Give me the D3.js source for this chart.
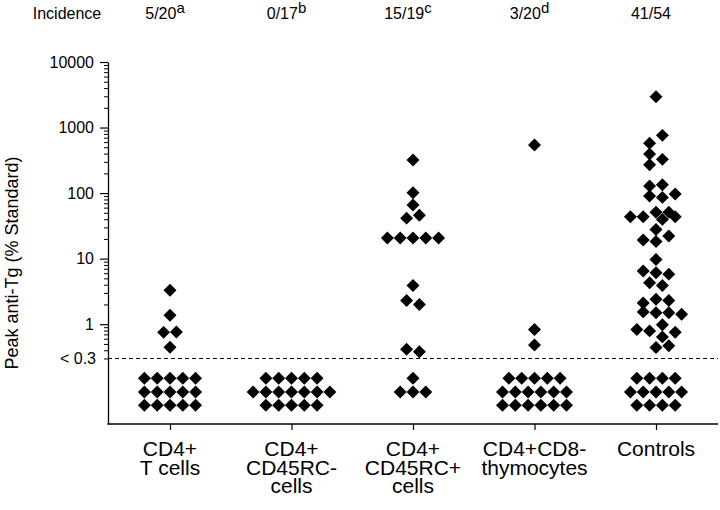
<!DOCTYPE html>
<html>
<head>
<meta charset="utf-8">
<script src="https://cdn.jsdelivr.net/npm/d3@7"></script>
<style>
  html, body { margin: 0; padding: 0; background: #fff; }
  svg text { font-family: "Liberation Sans", Arial, Helvetica, sans-serif; fill: #000; }
</style>
</head>
<body>
<svg id="chart" width="720" height="510"></svg>
<script>
// ---------------- DATA ----------------
const categories = ["CD4+ T cells", "CD4+ CD45RC- cells", "CD4+ CD45RC+ cells", "CD4+CD8- thymocytes", "Controls"];
const categoryLines = [
  ["CD4+", "T cells"],
  ["CD4+", "CD45RC-", "cells"],
  ["CD4+", "CD45RC+", "cells"],
  ["CD4+CD8-", "thymocytes"],
  ["Controls"]
];
const incidence = ["5/20", "0/17", "15/19", "3/20", "41/54"];
const incidenceNote = ["a", "b", "c", "d", ""];

// detectable peak anti-Tg values (% standard) and their horizontal jitter slot in the scatter
const tCellValues = [3.3, 1.37, 0.75, 0.76, 0.445];
const tCellSlots  = [0, 0, -0.5, 0.5, 0];
const rcNegValues = [];
const rcNegSlots  = [];
const rcPosValues = [319, 101, 66, 41.5, 46, 20.6, 20.6, 20.6, 20.6, 20.6, 3.9, 2.3, 2.0, 0.415, 0.38];
const rcPosSlots  = [0, 0, 0, -0.5, 0.5, -2, -1, 0, 1, 2, 0, -0.5, 0.5, -0.5, 0.5];
const thymoValues = [540, 0.83, 0.48];
const thymoSlots  = [0, 0, 0];
const controlValues = [2950, 760, 574, 394, 327, 270, 134, 128, 97, 90, 86, 51, 51, 43.5, 43.5, 43.5, 39.7,
  27.9, 22.1, 19.2, 18.3, 9.7, 6.5, 6.1, 5.8, 4.3, 3.9, 2.4, 2.3, 2.1, 1.54, 1.49, 1.49, 1.42,
  0.98, 0.83, 0.79, 0.755, 0.64, 0.47, 0.44];
const controlSlots = [0, 0.5, -0.5, -0.5, 0.5, -0.5, 0.5, -0.5, 1.5, -0.5, 0.5, 0, 1, -2, -1, 1.5, 0.5,
  0, 1, -1, 0, 0, -1, 0, 1, -0.5, 0.5, 0, 1, -1, -1, 0, 1, 2,
  0.5, -1.5, -0.5, 1.5, 0.5, 1, 0];

// undetectable (< 0.3) animals, stacked in rows: count per row
const belowRows = [[5, 5, 5], [5, 7, 5], [1, 3], [5, 6, 6], [4, 5, 4]];
const belowRowLevels = [0.15, 0.092, 0.058];   // nominal plotting levels below detection limit

const detectionLimit = 0.3;
const majorTicks = [1, 10, 100, 1000, 10000];
const yMin = 0.03, yMax = 10000;

// ---------------- LAYOUT ----------------
const W = 720, H = 510;
const margin = { left: 108, right: 2, top: 62, bottom: 86 };
const svg = d3.select("#chart");

const y = d3.scaleLog().domain([yMin, yMax]).range([H - margin.bottom, margin.top]);
const x = d3.scalePoint().domain(categories).range([margin.left + 62, W - 64]);
const slot = d3.scaleLinear().domain([0, 1]).range([0, 12.8]);

const groups = [
  [tCellValues, tCellSlots], [rcNegValues, rcNegSlots], [rcPosValues, rcPosSlots],
  [thymoValues, thymoSlots], [controlValues, controlSlots]
];
const points = [];
groups.forEach(([vals, slots], gi) => {
  vals.forEach((v, i) => points.push({ cat: categories[gi], value: v, slot: slots[i] }));
  belowRows[gi].forEach((n, ri) => {
    for (let k = 0; k < n; k++) points.push({ cat: categories[gi], value: belowRowLevels[ri], slot: k - (n - 1) / 2 });
  });
});

// ---------------- AXES ----------------
const yAxisG = svg.append("g").attr("transform", `translate(${margin.left},0)`)
  .call(d3.axisLeft(y).tickValues(majorTicks).tickSize(8).tickSizeOuter(0).tickPadding(6)
    .tickFormat(d3.format("d")));
yAxisG.select(".domain").attr("stroke", "#000").attr("stroke-width", 1.3);
yAxisG.selectAll(".tick line").attr("stroke", "#000").attr("stroke-width", 1.2);
yAxisG.selectAll(".tick text").attr("font-size", 16).attr("font-family", "Liberation Sans, Arial, sans-serif");

// minor ticks
const minor = [];
for (let dec = 0.1; dec < yMax; dec *= 10) {
  for (let m = 2; m <= 9; m++) {
    const v = +(m * dec).toPrecision(3);
    if (v >= detectionLimit && v < yMax && !majorTicks.includes(v)) minor.push(v);
  }
}
const minorG = svg.append("g").attr("transform", `translate(${margin.left},0)`)
  .call(d3.axisLeft(y).tickValues(minor).tickSize(4).tickFormat(""));
minorG.select(".domain").remove();
minorG.selectAll(".tick line").attr("stroke", "#000").attr("stroke-width", 1);

// "< 0.3" label
svg.append("text")
  .attr("x", margin.left - 12).attr("y", y(detectionLimit)).attr("dy", "0.34em")
  .attr("text-anchor", "end").attr("font-size", 16).text("< 0.3");

// detection limit dashed line
svg.append("line")
  .attr("x1", margin.left).attr("x2", W - margin.right)
  .attr("y1", y(detectionLimit)).attr("y2", y(detectionLimit))
  .attr("stroke", "#000").attr("stroke-width", 1.1).attr("stroke-dasharray", "4,3");

// x axis
const xAxisG = svg.append("g").attr("transform", `translate(0,${H - margin.bottom})`)
  .call(d3.axisBottom(x).tickSize(6).tickSizeOuter(0).tickFormat(""));
xAxisG.select(".domain").remove();
xAxisG.selectAll(".tick line").attr("stroke", "#000").attr("stroke-width", 1.2);
svg.append("line")
  .attr("x1", margin.left - 0.6).attr("x2", W - margin.right)
  .attr("y1", H - margin.bottom).attr("y2", H - margin.bottom)
  .attr("stroke", "#000").attr("stroke-width", 1.3);

// category labels
const labelSize = 21, labelPitch = 18.7;
categories.forEach((c, i) => {
  const t = svg.append("text").attr("x", x(c)).attr("y", H - margin.bottom + 32)
    .attr("text-anchor", "middle").attr("font-size", labelSize);
  categoryLines[i].forEach((ln, li) => {
    t.append("tspan").attr("x", x(c)).attr("dy", li === 0 ? 0 : labelPitch).text(ln);
  });
});

// y axis title
svg.append("text")
  .attr("transform", `translate(18,${(y(yMax) + y(yMin)) / 2 + 20}) rotate(-90)`)
  .attr("text-anchor", "middle").attr("font-size", 18)
  .text("Peak anti-Tg (% Standard)");

// incidence header
svg.append("text").attr("x", 67).attr("y", 19).attr("text-anchor", "middle")
  .attr("font-size", 16).text("Incidence");
categories.forEach((c, i) => {
  const t = svg.append("text").attr("x", x(c) - 5).attr("y", 19)
    .attr("text-anchor", "middle").attr("font-size", 16);
  t.append("tspan").text(incidence[i]);
  if (incidenceNote[i]) t.append("tspan").attr("dy", -6).attr("font-size", 15).text(incidenceNote[i]);
});

// ---------------- POINTS ----------------
const diamond = d3.symbol().type(d3.symbolSquare).size(84);
svg.append("g").selectAll("path").data(points).join("path")
  .attr("d", diamond)
  .attr("transform", d => `translate(${x(d.cat) + slot(d.slot)},${y(d.value)}) rotate(45)`)
  .attr("fill", "#000");
</script>
</body>
</html>
